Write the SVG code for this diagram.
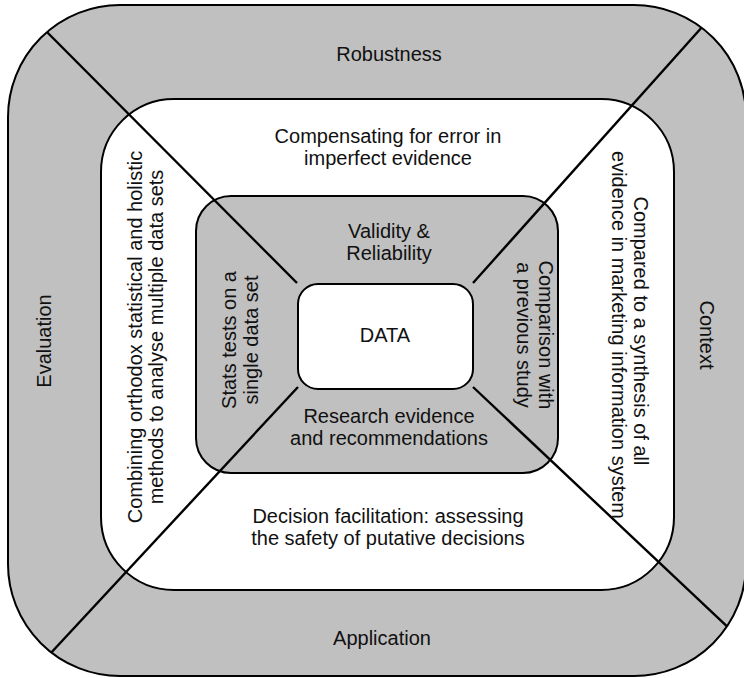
<svg xmlns="http://www.w3.org/2000/svg" width="744" height="678" viewBox="0 0 744 678">
  <style>
    .gray { fill: #c0c0c0; stroke: #000; stroke-width: 2; }
    .white { fill: #fff; stroke: #000; stroke-width: 2; }
    .conn { stroke: #000; stroke-width: 2.4; fill: none; }
    text { font-family: "Liberation Sans", Arial, sans-serif; font-size: 20px; fill: #111; text-anchor: middle; }
  </style>
  <defs>
    <clipPath id="outerClip">
      <rect x="8" y="5" width="738" height="671" rx="112" ry="112"/>
    </clipPath>
  </defs>
  <g id="outer-ring">
    <rect class="gray" x="8" y="5" width="738" height="671" rx="112" ry="112"/>
  </g>
  <g id="middle-ring">
    <rect class="white" x="101" y="99" width="573" height="491" rx="73" ry="73"/>
  </g>
  <g id="inner-ring">
    <rect class="gray" x="196" y="196" width="362" height="277" rx="35" ry="35"/>
  </g>
  <g id="data">
    <rect class="white" x="298" y="284" width="175" height="105" rx="20" ry="20"/>
    <text x="385" y="342">DATA</text>
  </g>
  <g id="connectors" clip-path="url(#outerClip)">
    <line class="conn" x1="297" y1="283" x2="30" y2="15"/>
    <line class="conn" x1="473" y1="283" x2="720" y2="7"/>
    <line class="conn" x1="298" y1="387" x2="36" y2="669"/>
    <line class="conn" x1="473" y1="387" x2="752" y2="650"/>
  </g>
  <g id="robustness">
    <text x="389" y="61">Robustness</text>
  </g>
  <g id="application">
    <text x="382" y="645">Application</text>
  </g>
  <g id="evaluation">
    <text transform="translate(51,341) rotate(-90)">Evaluation</text>
  </g>
  <g id="context">
    <text transform="translate(700,335) rotate(90)">Context</text>
  </g>
  <g id="compensating">
    <text x="388" y="143">Compensating for error in</text>
    <text x="388" y="165">imperfect evidence</text>
  </g>
  <g id="decision">
    <text x="388" y="523">Decision facilitation: assessing</text>
    <text x="388" y="545">the safety of putative decisions</text>
  </g>
  <g id="combining">
    <text transform="translate(142,337) rotate(-90)">Combining orthodox statistical and holistic</text>
    <text transform="translate(163,337) rotate(-90)">methods to analyse multiple data sets</text>
  </g>
  <g id="compared">
    <text transform="translate(634,331) rotate(90)">Compared to a synthesis of all</text>
    <text transform="translate(612,335) rotate(90)">evidence in marketing information system</text>
  </g>
  <g id="validity">
    <text x="389" y="238">Validity &amp;</text>
    <text x="389" y="260">Reliability</text>
  </g>
  <g id="research">
    <text x="389" y="423">Research evidence</text>
    <text x="389" y="445">and recommendations</text>
  </g>
  <g id="stats">
    <text transform="translate(236,340) rotate(-90)">Stats tests on a</text>
    <text transform="translate(258,340) rotate(-90)">single data set</text>
  </g>
  <g id="comparison">
    <text transform="translate(539,335) rotate(90)">Comparison with</text>
    <text transform="translate(517,335) rotate(90)">a previous study</text>
  </g>
</svg>
